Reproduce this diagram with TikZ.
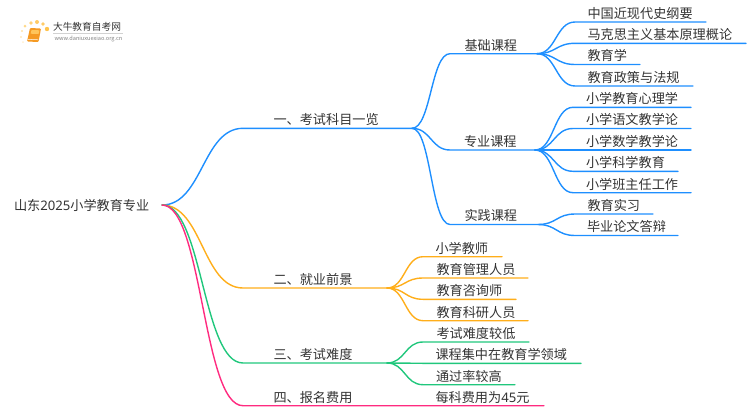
\documentclass[tikz,border=0pt]{standalone}
\usepackage{fontspec}
\setmainfont{Noto Sans CJK SC}
\newfontfamily\digitfont{Noto Sans}
\usetikzlibrary{calc}
\definecolor{cblue}{HTML}{1E8FFF}
\definecolor{corange}{HTML}{FFAE1A}
\definecolor{cgreen}{HTML}{20C77C}
\definecolor{cpink}{HTML}{FF2B80}
\definecolor{ctext}{HTML}{333333}
\definecolor{bookdark}{HTML}{F59A23}
\definecolor{booklight}{HTML}{FFC55A}
\tikzset{
  lbl/.style={anchor=base west,inner sep=0pt,outer sep=0pt,text=ctext,font=\fontsize{13.15pt}{13.15pt}\selectfont},
  conn/.style={line width=1.4pt,line cap=round,line join=round},
}
% name, hub, text x, line y, line end x, colour, text, curve end x
\newcommand{\twig}[8]{%
  \coordinate (#1s) at (#8,#4);
  \coordinate (#1e) at (#5,#4);
  \coordinate (#1m) at ($(#2)!0.5!(#1s)$);
  \node[lbl] (#1) at (#3,#4-3.6) {#7};
  \draw[conn,#6] (#2) .. controls (#1m |- #2) and (#1m |- #1s) .. (#1s) -- (#1e);
}
\begin{document}
\begin{tikzpicture}[x=1pt,y=-1pt]
\useasboundingbox (0,0) rectangle (750,410);
% logo
\foreach \px/\py/\pr/\pc in {25/26/1.5/FFD98A,31/23/1.9/FFD27A,37/22/2/FFCB66,43/24/1.9/FFCB66,47/29/2.2/FFC44D,22/31/1.2/FFE3A8,21/37/1.1/FFE9BC,23/42/1/FFEFD0}{
  \definecolor{dotc}{HTML}{\pc}
  \fill[dotc] (\px,\py) circle (\pr);
}
\fill[rounded corners=1pt,fill=bookdark] (30,28) -- (41,28.5) -- (38.5,42) -- (27,41.5) -- cycle;
\fill[rounded corners=0.5pt,fill=booklight] (31.5,30) -- (39.5,30.3) -- (38.6,34) -- (30.6,33.7) -- cycle;
\draw[white,line width=0.5pt] (27.8,39.3) -- (38.4,39.8);
\node[anchor=center,inner sep=0pt,text=ctext,font=\fontsize{9.7pt}{9.7pt}\selectfont] (logot) at (87,27) {大牛教育自考网};
\fill[gray!35] (53,33) rectangle (123,33.5);
\node[anchor=center,inner sep=0pt,text=gray,font=\fontsize{5.6pt}{5.6pt}\selectfont] (logou) at (88.5,39) {www.daniuxuexiao.org.cn};
% root
\node[lbl] (root) at (14,210.6) {山东{\digitfont 2025}小学教育专业};
\coordinate (r) at (162,205);
% level one
\twig{a}{r}{273.5}{128.3}{412}{cblue}{一、考试科目一览}{243}
\twig{b}{r}{273.5}{288}{387}{corange}{二、就业前景}{243}
\twig{c}{r}{273.5}{363}{387}{cgreen}{三、考试难度}{243}
\twig{d}{r}{273.5}{405.7}{544}{cpink}{四、报名费用}{243}
\coordinate (ah) at (412,128.3);
\coordinate (bh) at (387,288);
\coordinate (ch) at (387,363);
% level two
\twig{a1}{ah}{464.5}{53.7}{537}{cblue}{基础课程}{450}
\twig{a2}{ah}{464}{150}{535}{cblue}{专业课程}{450}
\twig{a3}{ah}{464.5}{224.5}{538}{cblue}{实践课程}{450}
\coordinate (a1h) at (537,53.7);
\coordinate (a2h) at (535,150);
\coordinate (a3h) at (538,224.5);
% leaves
\twig{p1}{a1h}{587.5}{22}{706}{cblue}{中国近现代史纲要}{575}
\twig{p2}{a1h}{587.5}{43.3}{746}{cblue}{马克思主义基本原理概论}{575}
\twig{p3}{a1h}{587.5}{64.5}{640}{cblue}{教育学}{575}
\twig{p4}{a1h}{587.5}{86}{693}{cblue}{教育政策与法规}{575}
\twig{q1}{a2h}{586}{107.3}{691}{cblue}{小学教育心理学}{573}
\twig{q2}{a2h}{586}{128.5}{691}{cblue}{小学语文教学论}{573}
\twig{q3}{a2h}{586}{150}{691}{cblue}{小学数学教学论}{573}
\twig{q4}{a2h}{586}{171.3}{678}{cblue}{小学科学教育}{573}
\twig{q5}{a2h}{586}{192.7}{691}{cblue}{小学班主任工作}{573}
\twig{s1}{a3h}{587.5}{214}{653}{cblue}{教育实习}{575}
\twig{s2}{a3h}{587}{235.5}{678}{cblue}{毕业论文答辩}{575}
\twig{t1}{bh}{435.5}{256.7}{502}{corange}{小学教师}{423}
\twig{t2}{bh}{436.5}{278}{528}{corange}{教育管理人员}{423}
\twig{t3}{bh}{436.5}{299.3}{516}{corange}{教育咨询师}{423}
\twig{t4}{bh}{436.5}{320.7}{528}{corange}{教育科研人员}{423}
\twig{u1}{ch}{436.5}{342}{529}{cgreen}{考试难度较低}{423}
\twig{u2}{ch}{435.5}{363.3}{581}{cgreen}{课程集中在教育学领域}{423}
\twig{u3}{ch}{436}{384.7}{515}{cgreen}{通过率较高}{423}
\node[lbl] (v1) at (435.5,402.1) {每科费用为{\digitfont 45}元};
\end{tikzpicture}
\end{document}
